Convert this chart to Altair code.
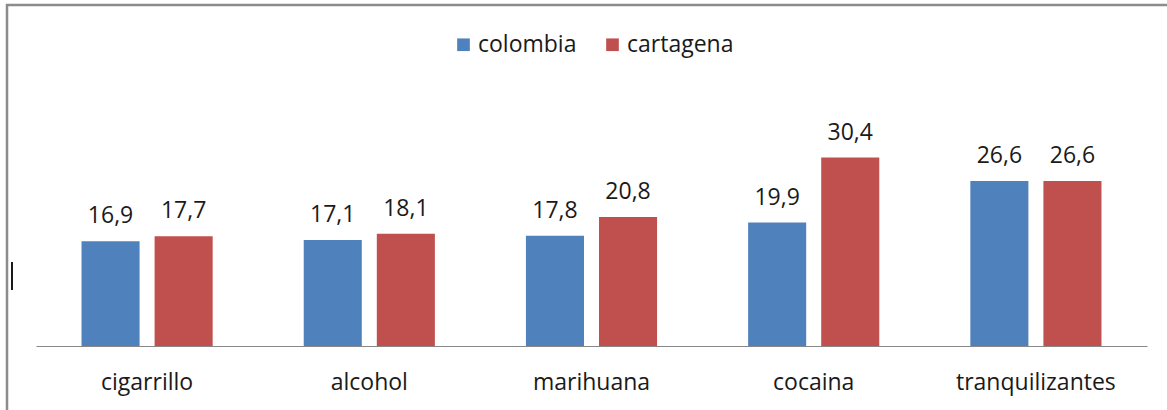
import altair as alt
import pandas as pd

categories = ["cigarrillo", "alcohol", "marihuana", "cocaina", "tranquilizantes"]
series = ["colombia", "cartagena"]
colombia = [16.9, 17.1, 17.8, 19.9, 26.6]
cartagena = [17.7, 18.1, 20.8, 30.4, 26.6]
colors = ["#4F81BD", "#C0504D"]

rows = []
for i, c in enumerate(categories):
    rows.append({"cat": c, "serie": "colombia", "v": colombia[i]})
    rows.append({"cat": c, "serie": "cartagena", "v": cartagena[i]})
df = pd.DataFrame(rows)

FONT = "Open Sans"
FS = 23

base = alt.Chart(df).encode(
    x=alt.X("cat:N", sort=categories,
            scale=alt.Scale(paddingInner=0, paddingOuter=0),
            axis=alt.Axis(title=None, labelAngle=0, ticks=False, domainColor="#888888",
                          domainWidth=1, labelFontSize=FS, labelFont=FONT,
                          labelColor="#1a1a1a", labelPadding=43,
                          labelBaseline="alphabetic", grid=False)),
    xOffset=alt.XOffset("serie:N", sort=series,
                        scale=alt.Scale(paddingInner=0.2055, paddingOuter=0.623)),
    y=alt.Y("v:Q", scale=alt.Scale(domain=[0, 35]), axis=None),
)

bars = base.mark_bar().encode(
    color=alt.Color("serie:N", sort=series,
                    scale=alt.Scale(domain=series, range=colors),
                    legend=alt.Legend(title=None, orient="none", direction="horizontal",
                                      legendX=416, legendY=-96, symbolType="square",
                                      symbolSize=160, symbolStrokeWidth=0,
                                      labelFontSize=FS, labelFont=FONT, labelColor="#1a1a1a",
                                      columnPadding=24, labelOffset=3)),
)

labels = base.transform_calculate(
    lab="replace(format(datum.v, '.1f'), '.', ',')"
).mark_text(baseline="alphabetic", dy=-18, fontSize=FS, font=FONT, color="#1a1a1a").encode(
    text="lab:N"
)

frame = alt.Chart(pd.DataFrame({"a": [0]})).mark_rect(
    fill=None, stroke="#8c8c8c", strokeWidth=2.5
).encode(
    x=alt.value(-29), x2=alt.value(1200), y=alt.value(-124), y2=alt.value(320)
)

cursor = alt.Chart(pd.DataFrame({"a": [0]})).mark_rule(
    stroke="#1a1a1a", strokeWidth=2
).encode(
    x=alt.value(-24), y=alt.value(133), y2=alt.value(161)
)

chart = alt.layer(frame, cursor, bars, labels).properties(
    width=1111, height=217,
    background="white",
    autosize=alt.AutoSizeParams(type="none"),
    padding={"left": 36, "top": 129, "right": 20, "bottom": 64},
).configure_view(strokeWidth=0, stroke="transparent")

chart.save("out.html", embed_options={"renderer": "svg", "actions": False})
